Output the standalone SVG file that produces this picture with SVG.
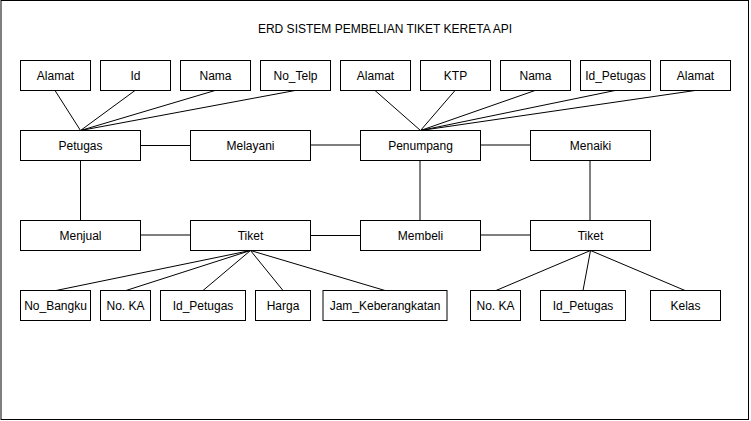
<svg xmlns="http://www.w3.org/2000/svg" width="751" height="421" viewBox="0 0 751 421">
<style>
.box{fill:#ffffff;stroke:#000000;stroke-width:1}
.lbl{font-family:"Liberation Sans",Arial,Helvetica,sans-serif;font-size:12px;fill:#000000;text-anchor:middle;dominant-baseline:central}
.ln{stroke:#000000;stroke-width:1;fill:none}
</style>
<rect x="0" y="0" width="751" height="421" fill="#ffffff"/>
<rect x="1" y="0.5" width="747.5" height="419" fill="none" stroke="#000000" stroke-width="1"/>
<text x="385" y="29" class="lbl">ERD SISTEM PEMBELIAN TIKET KERETA API</text>

<g id="connectors">
  <line class="ln" x1="55" y1="90.5" x2="80.5" y2="130.5"/>
  <line class="ln" x1="135" y1="90.5" x2="80.5" y2="130.5"/>
  <line class="ln" x1="215" y1="90.5" x2="80.5" y2="130.5"/>
  <line class="ln" x1="295" y1="90.5" x2="80.5" y2="130.5"/>
  <line class="ln" x1="375" y1="90.5" x2="420.5" y2="130.5"/>
  <line class="ln" x1="455" y1="90.5" x2="420.5" y2="130.5"/>
  <line class="ln" x1="535" y1="90.5" x2="420.5" y2="130.5"/>
  <line class="ln" x1="615" y1="90.5" x2="420.5" y2="130.5"/>
  <line class="ln" x1="695" y1="90.5" x2="420.5" y2="130.5"/>
  <line class="ln" x1="140" y1="145.5" x2="190" y2="145.5"/>
  <line class="ln" x1="310" y1="145" x2="360" y2="145"/>
  <line class="ln" x1="480" y1="145" x2="530" y2="145"/>
  <line class="ln" x1="80.5" y1="160" x2="80.5" y2="220"/>
  <line class="ln" x1="420" y1="160" x2="420" y2="220"/>
  <line class="ln" x1="590" y1="160" x2="590" y2="220"/>
  <line class="ln" x1="140" y1="235" x2="190" y2="235"/>
  <line class="ln" x1="310" y1="235.5" x2="360" y2="235.5"/>
  <line class="ln" x1="480" y1="235" x2="530" y2="235"/>
  <line class="ln" x1="250.5" y1="250.5" x2="56" y2="290.5"/>
  <line class="ln" x1="250.5" y1="250.5" x2="126" y2="290.5"/>
  <line class="ln" x1="250.5" y1="250.5" x2="203" y2="290.5"/>
  <line class="ln" x1="250.5" y1="250.5" x2="283" y2="290.5"/>
  <line class="ln" x1="250.5" y1="250.5" x2="385" y2="290.5"/>
  <line class="ln" x1="590.5" y1="250.5" x2="496" y2="290.5"/>
  <line class="ln" x1="590.5" y1="250.5" x2="583" y2="290.5"/>
  <line class="ln" x1="590.5" y1="250.5" x2="685" y2="290.5"/>
</g>

<g id="attr-alamat-1"><rect class="box" x="20.5" y="60.5" width="70" height="30"/><text class="lbl" x="55.5" y="75.5">Alamat</text></g>
<g id="attr-id"><rect class="box" x="100.5" y="60.5" width="70" height="30"/><text class="lbl" x="135.5" y="75.5">Id</text></g>
<g id="attr-nama-1"><rect class="box" x="180.5" y="60.5" width="70" height="30"/><text class="lbl" x="215.5" y="75.5">Nama</text></g>
<g id="attr-notelp"><rect class="box" x="260.5" y="60.5" width="70" height="30"/><text class="lbl" x="295.5" y="75.5">No_Telp</text></g>
<g id="attr-alamat-2"><rect class="box" x="340.5" y="60.5" width="70" height="30"/><text class="lbl" x="375.5" y="75.5">Alamat</text></g>
<g id="attr-ktp"><rect class="box" x="420.5" y="60.5" width="70" height="30"/><text class="lbl" x="455.5" y="75.5">KTP</text></g>
<g id="attr-nama-2"><rect class="box" x="500.5" y="60.5" width="70" height="30"/><text class="lbl" x="535.5" y="75.5">Nama</text></g>
<g id="attr-idpetugas-1"><rect class="box" x="580.5" y="60.5" width="70" height="30"/><text class="lbl" x="615.5" y="75.5">Id_Petugas</text></g>
<g id="attr-alamat-3"><rect class="box" x="660.5" y="60.5" width="70" height="30"/><text class="lbl" x="695.5" y="75.5">Alamat</text></g>

<g id="petugas"><rect class="box" x="20.5" y="130.5" width="120" height="30"/><text class="lbl" x="80.5" y="145.5">Petugas</text></g>
<g id="melayani"><rect class="box" x="190.5" y="130.5" width="120" height="30"/><text class="lbl" x="250.5" y="145.5">Melayani</text></g>
<g id="penumpang"><rect class="box" x="360.5" y="130.5" width="120" height="30"/><text class="lbl" x="420.5" y="145.5">Penumpang</text></g>
<g id="menaiki"><rect class="box" x="530.5" y="130.5" width="120" height="30"/><text class="lbl" x="590.5" y="145.5">Menaiki</text></g>

<g id="menjual"><rect class="box" x="20.5" y="220.5" width="120" height="30"/><text class="lbl" x="80.5" y="235.5">Menjual</text></g>
<g id="tiket-1"><rect class="box" x="190.5" y="220.5" width="120" height="30"/><text class="lbl" x="250.5" y="235.5">Tiket</text></g>
<g id="membeli"><rect class="box" x="360.5" y="220.5" width="120" height="30"/><text class="lbl" x="420.5" y="235.5">Membeli</text></g>
<g id="tiket-2"><rect class="box" x="530.5" y="220.5" width="120" height="30"/><text class="lbl" x="590.5" y="235.5">Tiket</text></g>

<g id="attr-nobangku"><rect class="box" x="20.5" y="290.5" width="70" height="30"/><text class="lbl" x="55.5" y="305.5">No_Bangku</text></g>
<g id="attr-noka-1"><rect class="box" x="100.5" y="290.5" width="50" height="30"/><text class="lbl" x="125.5" y="305.5">No. KA</text></g>
<g id="attr-idpetugas-2"><rect class="box" x="160.5" y="290.5" width="85" height="30"/><text class="lbl" x="203" y="305.5">Id_Petugas</text></g>
<g id="attr-harga"><rect class="box" x="255.5" y="290.5" width="55" height="30"/><text class="lbl" x="283" y="305.5">Harga</text></g>
<g id="attr-jam"><rect class="box" x="323" y="290.5" width="124" height="30"/><text class="lbl" x="385" y="305.5">Jam_Keberangkatan</text></g>
<g id="attr-noka-2"><rect class="box" x="470.5" y="290.5" width="50" height="30"/><text class="lbl" x="495.5" y="305.5">No. KA</text></g>
<g id="attr-idpetugas-3"><rect class="box" x="540.5" y="290.5" width="85" height="30"/><text class="lbl" x="583" y="305.5">Id_Petugas</text></g>
<g id="attr-kelas"><rect class="box" x="650.5" y="290.5" width="70" height="30"/><text class="lbl" x="685.5" y="305.5">Kelas</text></g>
</svg>
